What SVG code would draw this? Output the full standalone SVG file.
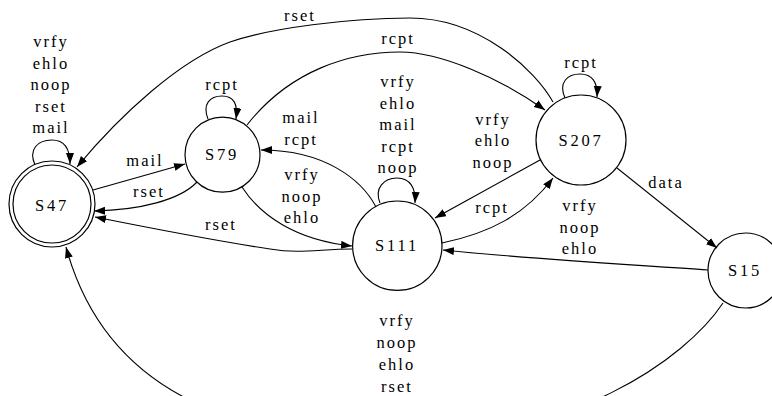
<svg xmlns="http://www.w3.org/2000/svg" width="772" height="396" viewBox="0 0 772 396">
<style>
.n{fill:none;stroke:#000;stroke-width:1.2}
.e{fill:none;stroke:#000;stroke-width:1.1;marker-end:url(#ah)}
.t{font-family:"Liberation Serif","Times New Roman",serif;font-size:16.5px;fill:#000;text-anchor:middle;letter-spacing:2px}
.nt{font-family:"Liberation Serif","Times New Roman",serif;font-size:16.5px;fill:#000;text-anchor:middle;letter-spacing:2.8px}
</style>
<defs>
<marker id="ah" markerUnits="userSpaceOnUse" markerWidth="12" markerHeight="9" refX="11" refY="4" orient="auto">
<path d="M0,0 L11,4 L0,8 z" fill="#000"/>
</marker>
</defs>
<rect width="772" height="396" fill="#fff"/>
<g id="connectors">
<path class="e" d="M35,165 C28,149 38,140 52,140 C64,140 70,148 70,164"/>
<path class="e" d="M93,190 L185,164"/>
<path class="e" d="M197,182 C180,200 140,210 94,211"/>
<path class="e" d="M352,249 C320,249 300,254 270,249 C210,240 150,228 95,217"/>
<path class="e" d="M242,187 C260,215 295,240 352,246"/>
<path class="e" d="M376,207 C362,180 325,150 261,150"/>
<path class="e" d="M380,203 C374,188 384,178 397,178 C410,178 416,188 415,203"/>
<path class="e" d="M208,119 C202,104 210,96 222,96 C234,96 238,104 236,119"/>
<path class="e" d="M247,125 C290,70 350,52 400,52 C440,52 500,78 545,110"/>
<path class="e" d="M553,102 C535,70 480,18 410,18 C350,18 270,28 230,42 C180,60 120,115 77,167"/>
<path class="e" d="M565,98 C558,82 568,74 580,74 C592,74 598,82 597,97"/>
<path class="e" d="M540,160 L435,218"/>
<path class="e" d="M442,243 C490,233 525,215 553,178"/>
<path class="e" d="M617,168 L717,248"/>
<path class="e" d="M708,270 C640,265 540,260 443,250"/>
<path class="e" d="M723,303 C685,360 570,440 400,440 C230,440 105,390 66,247"/>
</g>
<g id="edge-labels">
<text class="t" x="51" y="47">vrfy</text>
<text class="t" x="51" y="68.5">ehlo</text>
<text class="t" x="51" y="90">noop</text>
<text class="t" x="51" y="111.5">rset</text>
<text class="t" x="51" y="133">mail</text>
<text class="t" x="145" y="166">mail</text>
<text class="t" x="149" y="197">rset</text>
<text class="t" x="221" y="230">rset</text>
<text class="t" x="222" y="90">rcpt</text>
<text class="t" x="301" y="123">mail</text>
<text class="t" x="301" y="144.5">rcpt</text>
<text class="t" x="302" y="180">vrfy</text>
<text class="t" x="302" y="201.5">noop</text>
<text class="t" x="302" y="223">ehlo</text>
<text class="t" x="398" y="87">vrfy</text>
<text class="t" x="398" y="108.5">ehlo</text>
<text class="t" x="398" y="130">mail</text>
<text class="t" x="398" y="151.5">rcpt</text>
<text class="t" x="398" y="173">noop</text>
<text class="t" x="398" y="44">rcpt</text>
<text class="t" x="300" y="21">rset</text>
<text class="t" x="581" y="68">rcpt</text>
<text class="t" x="493" y="125">vrfy</text>
<text class="t" x="493" y="146">ehlo</text>
<text class="t" x="493" y="167.5">noop</text>
<text class="t" x="492" y="213">rcpt</text>
<text class="t" x="666" y="188">data</text>
<text class="t" x="580" y="211">vrfy</text>
<text class="t" x="580" y="232.5">noop</text>
<text class="t" x="580" y="254">ehlo</text>
<text class="t" x="397" y="326">vrfy</text>
<text class="t" x="397" y="348">noop</text>
<text class="t" x="397" y="370">ehlo</text>
<text class="t" x="397" y="392">rset</text>
</g>
<g id="S47">
<circle class="n" cx="52" cy="204" r="43"/>
<circle class="n" cx="52" cy="204" r="39"/>
<text class="nt" x="52" y="211">S47</text>
</g>
<g id="S79">
<circle class="n" cx="222.5" cy="154.7" r="37.5"/>
<text class="nt" x="222" y="159.5">S79</text>
</g>
<g id="S207">
<circle class="n" cx="581" cy="140" r="45"/>
<text class="nt" x="581" y="146">S207</text>
</g>
<g id="S111">
<circle class="n" cx="397.3" cy="245.7" r="44.7"/>
<text class="nt" x="397" y="250.5">S111</text>
</g>
<g id="S15">
<circle class="n" cx="745.5" cy="270.5" r="37.5"/>
<text class="nt" x="745" y="275.5">S15</text>
</g>
</svg>
